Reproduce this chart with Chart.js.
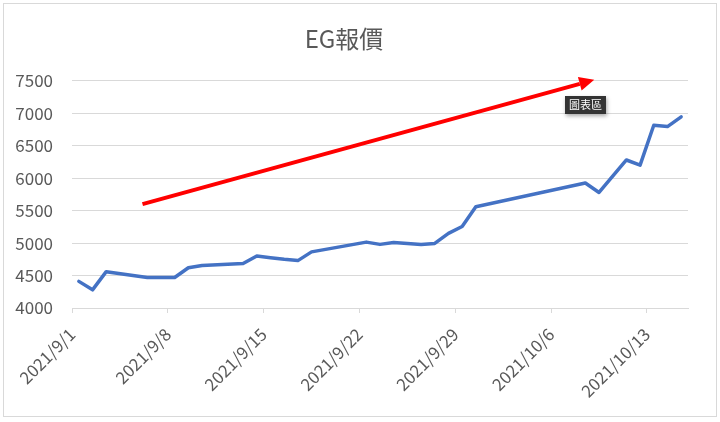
<!DOCTYPE html>
<html>
<head>
<meta charset="utf-8">
<script src="https://cdn.jsdelivr.net/npm/chart.js@4.4.1/dist/chart.umd.min.js"></script>
<style>
  html, body { margin: 0; padding: 0; background: #fff; }
  #wrap { position: relative; width: 720px; height: 422px; }
  #tip {
    position: absolute; left: 565px; top: 96px; height: 18px; line-height: 18px;
    padding: 0 4px; background: #333; color: #fff;
    font: 11px "Noto Sans CJK TC", sans-serif;
    box-shadow: 1px 2px 4px rgba(0,0,0,0.35);
  }
</style>
</head>
<body>
<div id="wrap">
  <canvas id="egChart" width="720" height="422"></canvas>
  <div id="tip">圖表區</div>
</div>
<script>
// EG 報價, 2021/9/1 - 2021/10/15
const dates = [
  "2021-09-01", "2021-09-02", "2021-09-03", "2021-09-06", "2021-09-07",
  "2021-09-08", "2021-09-09", "2021-09-10", "2021-09-13", "2021-09-14",
  "2021-09-15", "2021-09-16", "2021-09-17", "2021-09-18", "2021-09-22",
  "2021-09-23", "2021-09-24", "2021-09-26", "2021-09-27", "2021-09-28",
  "2021-09-29", "2021-09-30", "2021-10-08", "2021-10-09", "2021-10-11",
  "2021-10-12", "2021-10-13", "2021-10-14", "2021-10-15"
];
const prices = [
  4410, 4280, 4560, 4470, 4470,
  4470, 4620, 4655, 4685, 4800,
  4775, 4750, 4730, 4865, 5015,
  4980, 5010, 4980, 4995, 5150,
  5255, 5560, 5925, 5780, 6280,
  6200, 6815, 6795, 6945
];
const tickLabels = ["2021/9/1", "2021/9/8", "2021/9/15", "2021/9/22", "2021/9/29", "2021/10/6", "2021/10/13"];
const yTicks = [4000, 4500, 5000, 5500, 6000, 6500, 7000, 7500];

// red trend arrow (day offset, price)
const arrowStart = [5.15, 5600];
const arrowEnd = [38.15, 7515];

const startDay = Date.UTC(2021, 8, 1);
function dayOffset(str) {
  const p = str.split("-");
  return (Date.UTC(+p[0], +p[1] - 1, +p[2]) - startDay) / 864e5;
}

const points = dates.map((d, i) => ({ x: dayOffset(d) + 0.5, y: prices[i] }));
const tickDays = tickLabels.map(t => dayOffset(t.replace(/\//g, "-")));

const font = "'Noto Sans CJK TC', 'Noto Sans', sans-serif";
const grey = "#595959";

const decorations = {
  id: "decorations",
  beforeDraw(chart) {
    const c = chart.ctx;
    c.save();
    c.fillStyle = "#fff";
    c.fillRect(0, 0, chart.width, chart.height);
    c.strokeStyle = "#d9d9d9";
    c.lineWidth = 1;
    c.strokeRect(3.5, 3.5, 713, 413);
    c.restore();
  },
  afterDatasetsDraw(chart) {
    const c = chart.ctx;
    const xs = chart.scales.x, ys = chart.scales.y;
    const x1 = xs.getPixelForValue(arrowStart[0]), y1 = ys.getPixelForValue(arrowStart[1]);
    const x2 = xs.getPixelForValue(arrowEnd[0]), y2 = ys.getPixelForValue(arrowEnd[1]);
    const ang = Math.atan2(y2 - y1, x2 - x1);
    const headLen = 15, headW = 7;
    const bx = x2 - headLen * Math.cos(ang), by = y2 - headLen * Math.sin(ang);
    c.save();
    c.strokeStyle = "#ff0000";
    c.fillStyle = "#ff0000";
    c.lineWidth = 4;
    c.beginPath();
    c.moveTo(x1, y1);
    c.lineTo(bx, by);
    c.stroke();
    c.beginPath();
    c.moveTo(x2, y2);
    c.lineTo(bx + headW * Math.sin(ang), by - headW * Math.cos(ang));
    c.lineTo(bx - headW * Math.sin(ang), by + headW * Math.cos(ang));
    c.closePath();
    c.fill();
    c.restore();
  }
};

new Chart(document.getElementById("egChart"), {
  type: "line",
  data: {
    datasets: [{
      label: "EG報價",
      data: points,
      borderColor: "#4472c4",
      borderWidth: 3.5,
      pointRadius: 0,
      tension: 0,
      borderJoinStyle: "round",
      borderCapStyle: "round"
    }]
  },
  options: {
    responsive: false,
    animation: false,
    layout: { padding: { left: 0, right: 32, top: 0, bottom: 0 } },
    plugins: {
      legend: { display: false },
      tooltip: { enabled: false },
      title: {
        display: true,
        text: "EG報價",
        color: grey,
        font: { family: font, size: 24, weight: "normal" },
        padding: { top: 24, bottom: 28 }
      }
    },
    scales: {
      x: {
        type: "linear",
        min: 0,
        max: 45,
        afterBuildTicks(scale) {
          scale.ticks = tickDays.map(v => ({ value: v }));
        },
        afterFit(scale) { scale.height = 114; },
        ticks: {
          autoSkip: false,
          minRotation: 45,
          maxRotation: 45,
          padding: 11,
          color: grey,
          font: { family: font, size: 17 },
          callback: (v) => tickLabels[tickDays.indexOf(v)]
        },
        grid: { drawOnChartArea: false, drawTicks: true, tickLength: 5, color: "#d9d9d9" },
        border: { display: true, color: "#d9d9d9", width: 1 }
      },
      y: {
        min: 4000,
        max: 7500,
        afterBuildTicks(scale) {
          scale.ticks = yTicks.map(v => ({ value: v }));
        },
        afterFit(scale) { scale.width = 72; },
        ticks: {
          padding: 19,
          color: grey,
          font: { family: font, size: 17 },
          callback: (v) => String(v)
        },
        grid: { color: "#d9d9d9", drawTicks: false },
        border: { display: false }
      }
    }
  },
  plugins: [decorations]
});
</script>
</body>
</html>
